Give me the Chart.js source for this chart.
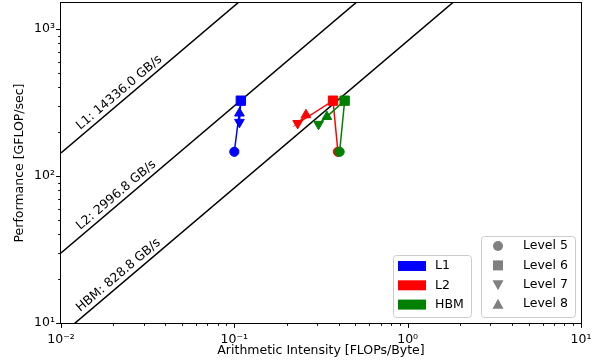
<!DOCTYPE html>
<html>
<head>
<meta charset="utf-8">
<script src="https://cdn.jsdelivr.net/npm/chart.js@4.4.1/dist/chart.umd.min.js"></script>
<style>
  html, body { margin: 0; padding: 0; background: #fff; }
  #cadre { width: 600px; height: 364px; position: relative; }
</style>
</head>
<body>
<div id="cadre"><canvas id="roofline"></canvas></div>
<script>
/* ─── Données ─────────────────────────────────────────────── */
const LEVELS      = ['Level 5', 'Level 6', 'Level 7', 'Level 8'];
const ROOF_NAMES  = ['L1', 'L2', 'HBM'];
const ROOF_BW     = [14336.0, 2996.8, 828.8];          // GB/s
const COULEURS    = ['#0000ff', '#ff0000', '#008000'];

const L1_AI    = [0.100, 0.109, 0.107, 0.107];
const L1_PERF  = [146, 325, 232, 267];
const L2_AI    = [0.396, 0.371, 0.232, 0.259];
const L2_PERF  = [146, 325, 228, 260];
const HBM_AI   = [0.405, 0.433, 0.306, 0.342];
const HBM_PERF = [146, 325, 225, 253];

const X_MAJOR  = [0.01, 0.1, 1, 10];
const X_LABELS = ['10\u207B\u00B2', '10\u207B\u00B9', '10\u2070', '10\u00B9'];
const Y_MAJOR  = [10, 100, 1000];
const Y_LABELS = ['10\u00B9', '10\u00B2', '10\u00B3'];
const X_MIN = 0.01, X_MAX = 10, Y_MIN = 10, Y_MAX = 1500;

/* ─── Styles des marqueurs (un par niveau) ────────────────── */
const STYLES    = ['circle', 'rect', 'triangle', 'triangle'];
const ROTATIONS = [0, 0, 180, 0];
const RAYONS    = [4.6, 6.6, 5.6, 5.6];

const FONT = '"DejaVu Sans", "Liberation Sans", sans-serif';
const TAILLE = 12.5;

function ticksLog(majeurs, min, max) {
    const out = [];
    majeurs.forEach(m => {
        for (let k = 1; k <= 9; k++) {
            const v = m * k;
            if (v >= min * 0.999 && v <= max * 1.001) out.push({ value: v, major: k === 1 });
        }
    });
    return out;
}

const serie = (ai, perf) => ai.map((x, i) => ({ x, y: perf[i] }));

const datasets = [];
ROOF_BW.forEach(bw => {
    datasets.push({
        data: [{ x: X_MIN, y: bw * X_MIN }, { x: X_MAX, y: bw * X_MAX }],
        borderColor: '#000', borderWidth: 1.5, pointRadius: 0, order: 5,
    });
});
[[L1_AI, L1_PERF], [L2_AI, L2_PERF], [HBM_AI, HBM_PERF]].forEach(([ai, perf], i) => {
    datasets.push({
        data: serie(ai, perf),
        borderColor: COULEURS[i], backgroundColor: COULEURS[i],
        borderWidth: 1.5,
        pointStyle: STYLES, pointRotation: ROTATIONS, pointRadius: RAYONS,
        pointBorderWidth: 1, pointBorderColor: COULEURS[i], pointBackgroundColor: COULEURS[i],
        order: 3 - i,
    });
});

/* ─── Cadre, graduations, étiquettes des toits, légendes ─── */
const decor = {
    id: 'decor',
    afterDatasetsDraw(chart) {
        const { ctx, chartArea: a, scales: { x, y } } = chart;
        ctx.save();
        // étiquettes le long des toits
        ctx.font = `${TAILLE}px ${FONT}`;
        ctx.fillStyle = '#000';
        ctx.textBaseline = 'alphabetic';
        ctx.textAlign = 'left';
        ROOF_BW.forEach((bw, i) => {
            const x0 = 0.0135, x1 = 0.05;
            const px0 = x.getPixelForValue(x0), py0 = y.getPixelForValue(bw * x0);
            const px1 = x.getPixelForValue(x1), py1 = y.getPixelForValue(bw * x1);
            const ang = Math.atan2(py1 - py0, px1 - px0);
            ctx.save();
            ctx.translate(px0, py0);
            ctx.rotate(ang);
            ctx.fillText(`${ROOF_NAMES[i]}: ${bw.toFixed(1)} GB/s`, 0, -5);
            ctx.restore();
        });

        // cadre
        ctx.strokeStyle = '#000';
        ctx.lineWidth = 1;
        ctx.strokeRect(Math.round(a.left) - 0.5, Math.round(a.top) - 0.5,
            Math.round(a.right - a.left) + 1, Math.round(a.bottom - a.top) + 1);

        // graduations extérieures
        ctx.beginPath();
        x.ticks.forEach(t => {
            const p = Math.round(x.getPixelForValue(t.value)) + 0.5;
            const l = t.major ? 4.9 : 2.8;
            ctx.moveTo(p, a.bottom); ctx.lineTo(p, a.bottom + l);
        });
        y.ticks.forEach(t => {
            const p = Math.round(y.getPixelForValue(t.value)) + 0.5;
            const l = t.major ? 4.9 : 2.8;
            ctx.moveTo(a.left, p); ctx.lineTo(a.left - l, p);
        });
        ctx.stroke();

        // titres d'axes
        ctx.textAlign = 'center';
        ctx.textBaseline = 'middle';
        ctx.fillText('Arithmetic Intensity [FLOPs/Byte]', (a.left + a.right) / 2, 351);
        ctx.save();
        ctx.translate(20, (a.top + a.bottom) / 2);
        ctx.rotate(-Math.PI / 2);
        ctx.fillText('Performance [GFLOP/sec]', 0, 0);
        ctx.restore();

        // légendes
        const boite = (bx, by, bw, bh) => {
            ctx.beginPath();
            ctx.roundRect(bx + 0.5, by + 0.5, bw, bh, 3);
            ctx.fillStyle = 'rgba(255,255,255,0.8)';
            ctx.fill();
            ctx.strokeStyle = '#cccccc';
            ctx.stroke();
        };
        ctx.textAlign = 'left';
        ctx.textBaseline = 'middle';

        boite(393, 255, 78, 62);
        ROOF_NAMES.forEach((n, i) => {
            const ry = 266 + i * 19.3;
            ctx.fillStyle = COULEURS[i];
            ctx.fillRect(398, ry - 5, 28, 10);
            ctx.fillStyle = '#000';
            ctx.fillText(n, 435, ry);
        });

        boite(481, 236, 94, 81);
        LEVELS.forEach((n, i) => {
            const ry = 246 + i * 19.4, rx = 498;
            ctx.fillStyle = '#808080';
            ctx.beginPath();
            if (STYLES[i] === 'circle') {
                ctx.arc(rx, ry, 5, 0, Math.PI * 2);
            } else if (STYLES[i] === 'rect') {
                ctx.rect(rx - 5, ry - 5, 10, 10);
            } else {
                const s = ROTATIONS[i] === 180 ? -1 : 1;
                ctx.moveTo(rx, ry - 5.5 * s);
                ctx.lineTo(rx - 5.5, ry + 4.5 * s);
                ctx.lineTo(rx + 5.5, ry + 4.5 * s);
                ctx.closePath();
            }
            ctx.fill();
            ctx.fillStyle = '#000';
            ctx.fillText(n, 523, ry);
        });
        ctx.restore();
    },
};

Chart.defaults.font.family = FONT;
Chart.defaults.font.size = TAILLE;
Chart.defaults.color = '#000';

new Chart(document.getElementById('roofline'), {
    type: 'line',
    data: { datasets },
    options: {
        responsive: true,
        maintainAspectRatio: false,
        animation: false,
        layout: { autoPadding: false, padding: { left: 0, right: 19, top: 3, bottom: 0 } },
        plugins: { legend: { display: false }, tooltip: { enabled: false } },
        scales: {
            x: {
                type: 'logarithmic', min: X_MIN, max: X_MAX,
                grid: { display: false, drawTicks: false },
                border: { display: false },
                afterBuildTicks: s => { s.ticks = ticksLog(X_MAJOR, X_MIN, X_MAX); },
                afterFit: s => { s.height = 41; s.paddingLeft = 0; s.paddingRight = 0; },
                ticks: {
                    autoSkip: false, maxRotation: 0, padding: 9,
                    callback: v => { const i = X_MAJOR.indexOf(v); return i >= 0 ? X_LABELS[i] : ''; },
                },
            },
            y: {
                type: 'logarithmic', min: Y_MIN, max: Y_MAX,
                grid: { display: false, drawTicks: false },
                border: { display: false },
                afterBuildTicks: s => { s.ticks = ticksLog(Y_MAJOR, Y_MIN, Y_MAX); },
                afterFit: s => { s.width = 61; s.paddingTop = 0; s.paddingBottom = 0; },
                ticks: {
                    autoSkip: false, padding: 6,
                    callback: v => { const i = Y_MAJOR.indexOf(v); return i >= 0 ? Y_LABELS[i] : ''; },
                },
            },
        },
    },
    plugins: [decor],
});
</script>
</body>
</html>
